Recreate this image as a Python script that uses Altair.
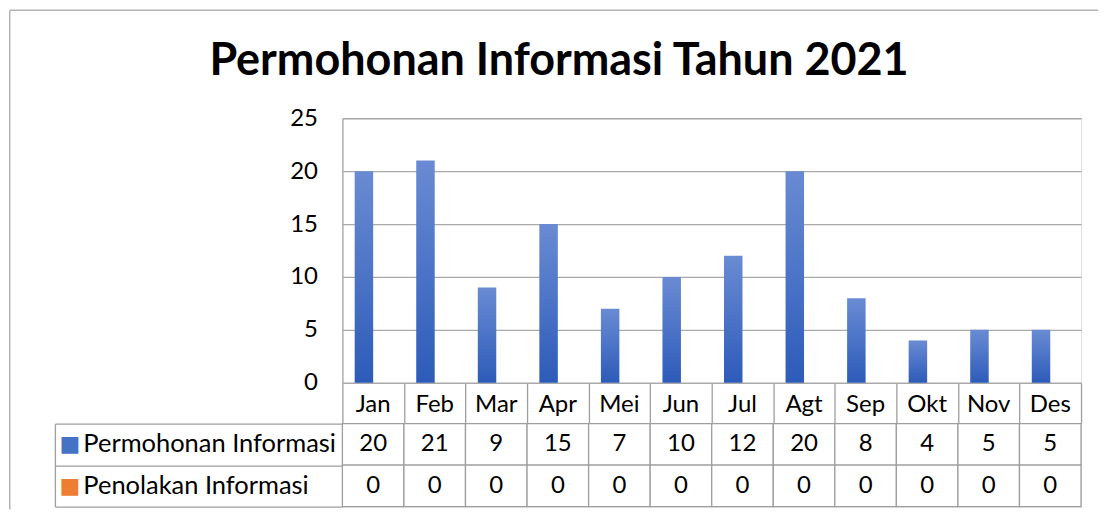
import altair as alt
import pandas as pd

# ---- data ----
months = ["Jan", "Feb", "Mar", "Apr", "Mei", "Jun", "Jul", "Agt", "Sep", "Okt", "Nov", "Des"]
series_names = ["Permohonan Informasi", "Penolakan Informasi"]
permohonan = [20, 21, 9, 15, 7, 10, 12, 20, 8, 4, 5, 5]
penolakan = [0, 0, 0, 0, 0, 0, 0, 0, 0, 0, 0, 0]
y_ticks = [0, 5, 10, 15, 20, 25]
title_text = "Permohonan Informasi Tahun 2021"

rows = []
for m, v in zip(months, permohonan):
    rows.append({"month": m, "series": series_names[0], "value": v})
for m, v in zip(months, penolakan):
    rows.append({"month": m, "series": series_names[1], "value": v})
df = pd.DataFrame(rows)

# ---- style ----
FONT = "Lato"
FS = 24
LEG_FS = 25.5
GRID = "#a9a9a9"
TABLE = "#9e9e9e"
BORDER = "#b4b4b4"
BLUE = "#4472c4"
ORANGE = "#ed7d31"
PLOT_W = 740
PLOT_H = 265
HEADER_H = 41
TABLE_H = 83
LEGEND_W = 288

blue_grad = {
    "gradient": "linear", "x1": 0, "y1": 0, "x2": 0, "y2": 1,
    "stops": [{"offset": 0, "color": "#6a8bd3"}, {"offset": 1, "color": "#2d5bb9"}],
}
orange_grad = {
    "gradient": "linear", "x1": 0, "y1": 0, "x2": 0, "y2": 1,
    "stops": [{"offset": 0, "color": "#f4935a"}, {"offset": 1, "color": "#e46c1e"}],
}

xscale = alt.Scale(domain=months, paddingInner=0, paddingOuter=0)

# ---- bar chart ----
bars = alt.Chart(df).mark_bar().encode(
    x=alt.X("month:N", sort=months, scale=xscale, title=None,
            axis=alt.Axis(orient="bottom", labels=False, ticks=True, tickBand="extent",
                          tickSize=HEADER_H, tickColor=TABLE, tickWidth=1.3,
                          domain=True, domainColor=GRID, domainWidth=1.3, grid=False)),
    xOffset=alt.XOffset("series:N", sort=series_names,
                        scale=alt.Scale(domain=series_names, paddingInner=0, paddingOuter=0.665)),
    y=alt.Y("value:Q", scale=alt.Scale(domain=[0, 25], nice=False), title=None,
            axis=alt.Axis(values=y_ticks, grid=True, gridColor=GRID, gridWidth=1.3,
                          domain=True, domainColor=GRID, domainWidth=1.3, ticks=False,
                          labelPadding=25, labelFont=FONT, labelFontSize=FS,
                          labelColor="black")),
    fill=alt.condition(f"datum.series == '{series_names[0]}'",
                       alt.value(blue_grad), alt.value(orange_grad)),
)

month_labels = alt.Chart(df).mark_rect(opacity=0).encode(
    x=alt.X("month:N", sort=months, scale=xscale, title=None,
            axis=alt.Axis(orient="bottom", ticks=False, domain=False, grid=False,
                          labelPadding=10, labelFont=FONT, labelFontSize=FS,
                          labelColor="black", labelAngle=0)),
)

top = alt.layer(bars, month_labels).resolve_axis(x="independent").properties(
    width=PLOT_W, height=PLOT_H,
    title=alt.TitleParams(title_text, font=FONT, fontSize=45, fontWeight="bold",
                          color="black", anchor="middle", frame="group", dx=-153,
                          baseline="alphabetic", offset=-14),
)

# ---- data table ----
yscale = alt.Scale(domain=series_names, paddingInner=0, paddingOuter=0)
tbase = alt.Chart(df).encode(
    x=alt.X("month:N", sort=months, scale=xscale, axis=None),
)

cells = tbase.mark_rect(fill="white", stroke=TABLE, strokeWidth=1.3).encode(
    y=alt.Y("series:N", sort=series_names, scale=yscale, title=None,
            axis=alt.Axis(orient="left", labels=False, domain=False, ticks=True,
                          tickSize=LEGEND_W, tickBand="extent", tickColor=TABLE,
                          tickWidth=1.3, grid=False)),
)

values = tbase.mark_text(font=FONT, fontSize=FS, color="black").encode(
    y=alt.Y("series:N", sort=series_names, scale=yscale, title=None,
            axis=alt.Axis(orient="left", labels=True, labelAlign="left", labelPadding=260,
                          ticks=False, domain=False, grid=False, labelFont=FONT,
                          labelFontSize=LEG_FS, labelColor="black", labelLimit=0)),
    text="value:Q",
)

swatches = tbase.mark_rect(opacity=0).encode(
    y=alt.Y("series:N", sort=series_names, scale=yscale, title=None,
            axis=alt.Axis(orient="left", labels=True, labelExpr="'■'", labelAlign="left",
                          labelPadding=284, ticks=False, domain=False, grid=False,
                          labelFont="DejaVu Sans", labelFontSize=22, labelLimit=0,
                          labelColor={"condition": {"test": f"datum.value == '{series_names[0]}'",
                                                    "value": BLUE},
                                      "value": ORANGE})),
)

legend_edge = tbase.mark_rect(opacity=0).encode(
    y=alt.Y("series:N", sort=series_names, scale=yscale, title=None,
            axis=alt.Axis(orient="left", offset=LEGEND_W, labels=False, ticks=False,
                          grid=False, domain=True, domainColor=TABLE, domainWidth=1.3)),
)

one = alt.Data(values=[{"k": 1}])
frame_left = alt.Chart(one).mark_rule(color=BORDER, strokeWidth=1.5).encode(
    x=alt.value(-333.25), y=alt.value(-414.25), y2=alt.value(86))
frame_top = alt.Chart(one).mark_rule(color=BORDER, strokeWidth=1.5).encode(
    x=alt.value(-333.25), x2=alt.value(757), y=alt.value(-414.25))

table = alt.layer(cells, values, swatches, legend_edge, frame_left, frame_top).resolve_axis(
    y="independent").properties(width=PLOT_W, height=TABLE_H)

chart = alt.vconcat(top, table, spacing=HEADER_H, bounds="flush", padding=0).configure_view(
    stroke="transparent").configure(font=FONT, background="white")

chart.save("out.html", embed_options={"renderer": "svg", "actions": False})
